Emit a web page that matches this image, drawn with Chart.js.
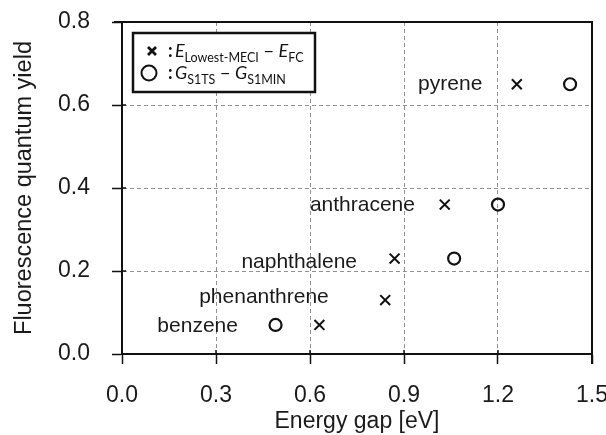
<!DOCTYPE html>
<html>
<head>
<meta charset="utf-8">
<script src="https://cdn.jsdelivr.net/npm/chart.js@4.4.0/dist/chart.umd.min.js"></script>
<style>
  html, body { margin: 0; padding: 0; background: #fff; }
  #wrap { width: 606px; height: 435px; }
</style>
</head>
<body>
<div id="wrap"><canvas id="gapChart"></canvas></div>
<script>
// molecules and values
var molecules = ['benzene', 'phenanthrene', 'naphthalene', 'anthracene', 'pyrene'];
var quantumYield = [0.07, 0.13, 0.23, 0.36, 0.65];
var meciGap = [0.63, 0.84, 0.87, 1.03, 1.26];     // E(Lowest-MECI) - E(FC)
var tsGap = [0.49, null, 1.06, 1.20, 1.43];       // G(S1TS) - G(S1MIN)
// where each molecule name sits (right end of the text, in data units)
var labelX = [0.37, 0.66, 0.75, 0.935, 1.15];
var labelY = [0.067, 0.137, 0.221, 0.358, 0.649];
var xTicks = [0.0, 0.3, 0.6, 0.9, 1.2, 1.5];
var yTicks = [0.0, 0.2, 0.4, 0.6, 0.8];

var FONT = '"Liberation Sans", Arial, sans-serif';
var LEGEND_FONT = 'Lato, "Open Sans", sans-serif';

function toPoints(xs, ys) {
  var pts = [];
  for (var i = 0; i < xs.length; i++) {
    if (xs[i] !== null) pts.push({ x: xs[i], y: ys[i] });
  }
  return pts;
}

function gridColor(ctx) {
  var v = ctx.tick ? ctx.tick.value : 0;
  var s = ctx.scale;
  if (Math.abs(v - s.min) < 1e-6 || Math.abs(v - s.max) < 1e-6) return 'rgba(0,0,0,0)';
  return '#909090';
}

// frame (top/right), crossing tick marks, molecule names and the legend box
var decorPlugin = {
  id: 'decor',
  afterDatasetsDraw: function (chart) {
    var ctx = chart.ctx;
    var a = chart.chartArea;
    var xs = chart.scales.x, ys = chart.scales.y;
    ctx.save();

    ctx.strokeStyle = '#111';
    ctx.lineWidth = 2;
    ctx.beginPath();
    ctx.moveTo(a.left - 8, a.top);
    ctx.lineTo(a.right, a.top);
    ctx.lineTo(a.right, a.bottom + 10);
    ctx.stroke();

    // inner part of the tick marks
    ctx.lineWidth = 1.5;
    ctx.beginPath();
    xTicks.forEach(function (t) {
      var px = xs.getPixelForValue(t);
      ctx.moveTo(px, a.bottom - 4);
      ctx.lineTo(px, a.bottom);
    });
    yTicks.forEach(function (t) {
      var py = ys.getPixelForValue(t);
      ctx.moveTo(a.left, py);
      ctx.lineTo(a.left + 4, py);
    });
    ctx.stroke();

    // molecule names
    ctx.fillStyle = '#1a1a1a';
    ctx.font = '21px ' + FONT;
    ctx.textAlign = 'right';
    ctx.textBaseline = 'middle';
    molecules.forEach(function (name, i) {
      ctx.fillText(name, xs.getPixelForValue(labelX[i]), ys.getPixelForValue(labelY[i]));
    });

    // legend box
    var bx = a.left + 11, by = a.top + 11, bw = 182, bh = 59;
    ctx.fillStyle = '#fff';
    ctx.fillRect(bx, by, bw, bh);
    ctx.strokeStyle = '#111';
    ctx.lineWidth = 2.5;
    ctx.strokeRect(bx, by, bw, bh);

    ctx.textAlign = 'left';
    ctx.textBaseline = 'alphabetic';
    ctx.fillStyle = '#111';

    function runs(parts, x, y) {
      parts.forEach(function (p) {
        ctx.font = p[1];
        ctx.fillText(p[0], x, y + (p[2] || 0));
        x += ctx.measureText(p[0]).width;
      });
    }
    var big = '18px ' + LEGEND_FONT;
    var bigIt = 'italic 18px ' + LEGEND_FONT;
    var sub = '12.5px ' + LEGEND_FONT;
    var bold = 'bold 18px ' + LEGEND_FONT;

    // row 1: cross marker
    var cx = bx + 19, cy = by + 18;
    ctx.lineWidth = 2.8;
    ctx.beginPath();
    ctx.moveTo(cx - 4, cy - 4); ctx.lineTo(cx + 4, cy + 4);
    ctx.moveTo(cx + 4, cy - 4); ctx.lineTo(cx - 4, cy + 4);
    ctx.stroke();
    runs([[':', bold], ['\u2009', big], ['E', bigIt], ['Lowest-MECI', sub, 5], [' \u2212 ', big], ['E', bigIt], ['FC', sub, 5]], bx + 35, by + 24);

    // row 2: circle marker
    ctx.lineWidth = 2;
    ctx.beginPath();
    ctx.arc(bx + 16, by + 40, 7.5, 0, Math.PI * 2);
    ctx.stroke();
    runs([[':', bold], ['\u2009', big], ['G', bigIt], ['S1TS', sub, 5], [' \u2212 ', big], ['G', bigIt], ['S1MIN', sub, 5]], bx + 35, by + 46);

    ctx.restore();
  }
};

window.addEventListener('load', function () {
  var el = document.getElementById('gapChart').getContext('2d');
  var gapChart = new Chart(el, {
    type: 'scatter',
    data: {
      datasets: [{
        label: 'E(Lowest-MECI) - E(FC)',
        data: toPoints(meciGap, quantumYield),
        pointStyle: 'crossRot',
        pointRadius: 7,
        pointBorderWidth: 2,
        borderColor: '#111',
        backgroundColor: '#111'
      }, {
        label: 'G(S1TS) - G(S1MIN)',
        data: toPoints(tsGap, quantumYield),
        pointStyle: 'circle',
        pointRadius: 6,
        pointBorderWidth: 2.2,
        borderColor: '#111',
        backgroundColor: 'rgba(255,255,255,0)'
      }]
    },
    options: {
      responsive: true,
      maintainAspectRatio: false,
      animation: false,
      layout: { padding: { top: 22, right: 14, left: 0, bottom: 0 } },
      plugins: {
        legend: { display: false },
        tooltip: { enabled: false }
      },
      scales: {
        x: {
          type: 'linear',
          min: 0, max: 1.5,
          afterFit: function (s) { s.height = 81; s.paddingLeft = 0; s.paddingRight = 0; },
          afterBuildTicks: function (s) { s.ticks = xTicks.map(function (v) { return { value: v }; }); },
          ticks: {
            padding: 18,
            color: '#1a1a1a',
            font: { family: FONT, size: 23 },
            callback: function (v) { return v.toFixed(1); }
          },
          grid: {
            color: gridColor,
            lineWidth: 1,
            tickColor: '#111',
            tickLength: 10,
            tickWidth: 1.5,
            tickBorderDash: []
          },
          border: { color: '#111', width: 2, dash: [4, 3] },
          title: {
            display: true,
            text: 'Energy gap [eV]',
            color: '#1a1a1a',
            font: { family: FONT, size: 23 },
            padding: { top: 0, bottom: 0 }
          }
        },
        y: {
          type: 'linear',
          min: 0, max: 0.8,
          afterFit: function (s) { s.width = 122; s.paddingTop = 0; s.paddingBottom = 0; },
          afterBuildTicks: function (s) { s.ticks = yTicks.map(function (v) { return { value: v }; }); },
          ticks: {
            padding: 22,
            color: '#1a1a1a',
            font: { family: FONT, size: 23 },
            callback: function (v) { return v.toFixed(1); }
          },
          grid: {
            color: gridColor,
            lineWidth: 1,
            tickColor: '#111',
            tickLength: 10,
            tickWidth: 1.5,
            tickBorderDash: []
          },
          border: { color: '#111', width: 2, dash: [4, 3] },
          title: {
            display: true,
            text: 'Fluorescence quantum yield',
            color: '#1a1a1a',
            font: { family: FONT, size: 23.5 },
            padding: { top: 10, bottom: 0 }
          }
        }
      }
    },
    plugins: [decorPlugin]
  });
});
</script>
</body>
</html>
